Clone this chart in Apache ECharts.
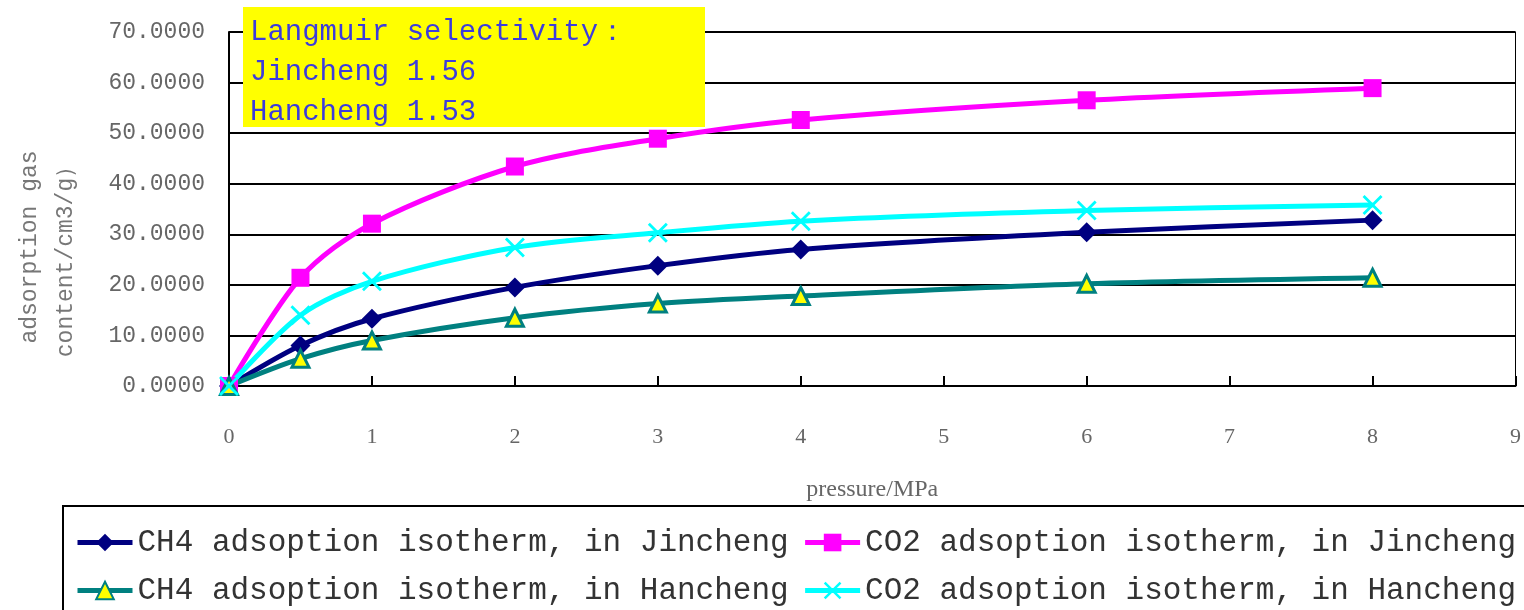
<!DOCTYPE html>
<html>
<head>
<meta charset="utf-8">
<script src="https://cdn.jsdelivr.net/npm/echarts@6/dist/echarts.min.js"></script>
<style>html,body{margin:0;padding:0;background:#fff}#c{width:1524px;height:610px}</style>
</head>
<body>
<div id="c"></div>
<script>
const pressure = [0, 0.5, 1, 2, 3, 4, 6, 8];
const ch4Jincheng = [0, 8.0, 13.3, 19.5, 23.8, 27.0, 30.4, 32.8];
const co2Jincheng = [0, 21.4, 32.1, 43.4, 48.9, 52.6, 56.5, 58.9];
const ch4Hancheng = [0, 5.4, 9.0, 13.5, 16.3, 17.8, 20.2, 21.4];
const co2Hancheng = [0, 14.0, 20.7, 27.4, 30.3, 32.6, 34.7, 35.8];
const seriesNames = [
  'CH4 adsoption isotherm, in Jincheng',
  'CO2 adsoption isotherm, in Jincheng',
  'CH4 adsoption isotherm, in Hancheng',
  'CO2 adsoption isotherm, in Hancheng'
];
const noteLines = ['Langmuir selectivity：', 'Jincheng 1.56', 'Hancheng 1.53'];
const yNameLines = ['adsorption gas', 'content/cm3/g）'];
const xName = 'pressure/MPa';

const pts = arr => pressure.map((p, i) => [p, arr[i]]);
const xMark = 'path://M1,0 L5,4 L9,0 L10,1 L6,5 L10,9 L9,10 L5,6 L1,10 L0,9 L4,5 L0,1 Z';

const legendText = {fontFamily: 'Liberation Mono', fontSize: 31, color: '#333'};
const chart = echarts.init(document.getElementById('c'));
chart.setOption({
  backgroundColor: '#fff',
  animation: false,
  grid: {left: 229, right: 8, top: 32, bottom: 224, show: true, borderColor: '#000', borderWidth: 1},
  xAxis: {
    type: 'value', min: 0, max: 9, interval: 1,
    name: xName, nameLocation: 'middle', nameGap: 92,
    nameTextStyle: {fontFamily: 'Liberation Serif', fontSize: 24, color: '#666'},
    axisLine: {show: true, onZero: false, lineStyle: {color: '#000', width: 2}},
    axisTick: {show: true, inside: true, length: 10, lineStyle: {color: '#000', width: 2}},
    axisLabel: {margin: 40, fontFamily: 'Liberation Serif', fontSize: 22, color: '#666'},
    splitLine: {show: false}
  },
  yAxis: {
    type: 'value', min: 0, max: 70, interval: 10,
    axisLine: {show: true, lineStyle: {color: '#000', width: 2}},
    axisTick: {show: false},
    axisLabel: {margin: 24, fontFamily: 'Liberation Mono', fontSize: 23, color: '#666',
      formatter: v => v.toFixed(4)},
    splitLine: {show: true, lineStyle: {color: '#000', width: 2}}
  },
  legend: [
    {data: [seriesNames[0], seriesNames[1]], left: 70, top: 522, width: 1500, itemWidth: 55, itemHeight: 22, itemGap: 14,
     lineStyle: {width: 5}, textStyle: legendText},
    {data: [seriesNames[2], seriesNames[3]], left: 70, top: 570, width: 1500, itemWidth: 55, itemHeight: 22, itemGap: 14,
     lineStyle: {width: 5}, textStyle: legendText}
  ],
  series: [
    {name: seriesNames[0], type: 'line', smooth: 0.3, data: pts(ch4Jincheng),
     symbol: 'diamond', symbolSize: 20, itemStyle: {color: '#000080'}, lineStyle: {color: '#000080', width: 5}},
    {name: seriesNames[1], type: 'line', smooth: 0.3, data: pts(co2Jincheng),
     symbol: 'rect', symbolSize: 18, itemStyle: {color: '#ff00ff'}, lineStyle: {color: '#ff00ff', width: 5}},
    {name: seriesNames[2], type: 'line', smooth: 0.3, data: pts(ch4Hancheng),
     symbol: 'triangle', symbolSize: 17, itemStyle: {color: '#ffff00', borderColor: '#008080', borderWidth: 3},
     lineStyle: {color: '#008080', width: 5}},
    {name: seriesNames[3], type: 'line', smooth: 0.3, data: pts(co2Hancheng),
     symbol: xMark, symbolSize: 20, itemStyle: {color: '#00ffff'}, lineStyle: {color: '#00ffff', width: 5}}
  ],
  graphic: [
    {type: 'rect', z: 100, shape: {x: 243, y: 7, width: 462, height: 120}, style: {fill: '#ffff00'}},
    ...noteLines.map((t, i) => ({type: 'text', z: 101, x: 250, y: 32 + i * 40,
      style: {text: t, fontFamily: 'Liberation Mono', fontSize: 29, fill: '#3c3cdc', textVerticalAlign: 'middle'}})),
    {type: 'text', x: 30, y: 247, rotation: Math.PI / 2,
     style: {text: yNameLines[0], fontFamily: 'Liberation Mono', fontSize: 23, fill: '#777', textAlign: 'center', textVerticalAlign: 'middle'}},
    {type: 'text', x: 66, y: 256, rotation: Math.PI / 2,
     style: {text: yNameLines[1], fontFamily: 'Liberation Mono', fontSize: 23, fill: '#777', textAlign: 'center', textVerticalAlign: 'middle'}},
    {type: 'rect', shape: {x: 63, y: 506, width: 1470, height: 110}, style: {fill: 'none', stroke: '#000', lineWidth: 2}}
  ]
});
</script>
</body>
</html>
